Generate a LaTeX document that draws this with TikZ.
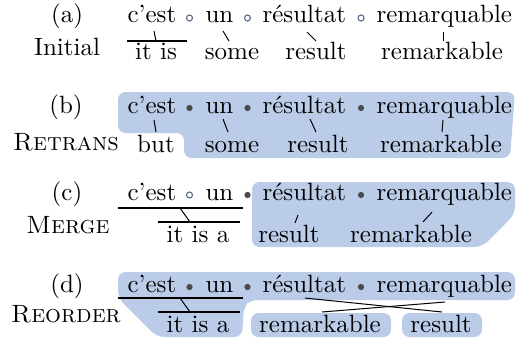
\documentclass[tikz,border=0pt]{standalone}
\usetikzlibrary{calc}
\definecolor{hl}{RGB}{187,204,233}
\definecolor{ocirc}{RGB}{90,105,140}
\definecolor{fcirc}{RGB}{75,75,75}
\begin{document}
\begin{tikzpicture}[x=0.4pt,y=-0.4pt,
  w/.style={inner sep=0pt,anchor=base west},
  c/.style={inner sep=0pt,anchor=base},
  lnk/.style={line width=0.4pt},
  bar/.style={line width=0.5pt},
  oc/.style={circle,draw=ocirc,line width=0.45pt,inner sep=0pt,minimum size=2.4pt},
  fc/.style={circle,fill=fcirc,inner sep=0pt,minimum size=2.5pt},
  hlr/.style={fill=hl,rounded corners=3pt}]
\useasboundingbox (0,0) rectangle (517,339);
% ---------- (a)
\node[c] (la) at (67,23) {(a)};
\node[c] (lan) at (67,56) {Initial};
\node[w] (a1) at (127,23) {c'est};
\node[w] (a2) at (205,23) {un};
\node[w] (a3) at (262,23) {résultat};
\node[w] (a4) at (376,23) {remarquable};
\node[oc] (ao1) at (189.5,18) {};
\node[oc] (ao2) at (247.5,18) {};
\node[oc] (ao3) at (361,18) {};
\node[c] (ab1) at (156,60) {it is};
\node[c] (ab2) at (232,60) {some};
\node[c] (ab3) at (316,60) {result};
\node[c] (ab4) at (442,60) {remarkable};
\draw[bar] ($(ab1.base)+(-29,-19)$) -- ($(ab1.base)+(31,-19)$);
\draw[lnk] ($(a1.base west)+(27,8)$) -- ($(ab1.base)+(0,-19)$);
\draw[lnk] ($(a2.base west)+(18,8)$) -- ($(ab2.base)+(-3,-19)$);
\draw[lnk] ($(a3.base west)+(45,9)$) -- ($(ab3.base)+(0,-19)$);
\draw[lnk] ($(a4.base west)+(67,9)$) -- ($(ab4.base)+(1,-19)$);
% ---------- (b)
\fill[hlr] (118,92) -- (515,92) -- (510,158) -- (184,158) -- (184,133) -- (118,133) -- cycle;
\node[c] (lb) at (66,113) {(b)};
\node[c] (lbn) at (66,150) {\textsc{Retrans}};
\node[w] (b1) at (127,113) {c'est};
\node[w] (b2) at (205,113) {un};
\node[w] (b3) at (262,113) {résultat};
\node[w] (b4) at (376,113) {remarquable};
\node[fc] (bo1) at (189.5,108) {};
\node[fc] (bo2) at (247.5,108) {};
\node[fc] (bo3) at (361,108) {};
\node[c] (bb1) at (156,152) {but};
\node[c] (bb2) at (232,152) {some};
\node[c] (bb3) at (318,152) {result};
\node[c] (bb4) at (441,152) {remarkable};
\draw[lnk] ($(b1.base west)+(27,7)$) -- ($(bb1.base)+(0,-20)$);
\draw[lnk] ($(b2.base west)+(18,6)$) -- ($(bb2.base)+(-4,-20)$);
\draw[lnk] ($(b3.base west)+(48,6)$) -- ($(bb3.base)+(-2,-20)$);
\draw[lnk] ($(b4.base west)+(67,7)$) -- ($(bb4.base)+(1,-20)$);
% ---------- (c)
\fill[hlr] (252,182) -- (515,182) -- (515,214) -- (482,247) -- (252,247) -- cycle;
\node[c] (lc) at (67,200) {(c)};
\node[c] (lcn) at (68,233) {\textsc{Merge}};
\node[w] (c1) at (127,200) {c'est};
\node[w] (c2) at (205,200) {un};
\node[w] (c3) at (262,200) {résultat};
\node[w] (c4) at (376,200) {remarquable};
\node[oc] (co1) at (189.5,195) {};
\node[fc] (co2) at (247.5,195) {};
\node[fc] (co3) at (361,195) {};
\node[c] (cb1) at (198,242) {it is a};
\node[c] (cb2) at (289,242) {result};
\node[c] (cb3) at (411,242) {remarkable};
\draw[bar] ($(c1.base west)+(-9,8)$) -- ($(c2.base east)+(9,8)$);
\draw[bar] ($(cb1.base)+(-40,-20)$) -- ($(cb1.base)+(42,-20)$);
\draw[lnk] ($(c1.base west)+(53,8)$) -- ($(cb1.base)+(-8,-20)$);
\draw[lnk] ($(c3.base west)+(36,15)$) -- ($(cb2.base)+(6,-19)$);
\draw[lnk] ($(c4.base west)+(56,12)$) -- ($(cb3.base)+(12,-20)$);
% ---------- (d)
\fill[hlr] (118,272) -- (515,272) -- (515,300) -- (250,300) -- (244,306) -- (242,337) -- (157,337) -- (118,298) -- cycle;
\fill[hlr] (251,313) rectangle (391,337);
\fill[hlr] (402,313) rectangle (482,337);
\node[c] (ld) at (67,292) {(d)};
\node[c] (ldn) at (66,322) {\textsc{Reorder}};
\node[w] (d1) at (127,292) {c'est};
\node[w] (d2) at (205,292) {un};
\node[w] (d3) at (262,292) {résultat};
\node[w] (d4) at (376,292) {remarquable};
\node[fc] (do1) at (189.5,287) {};
\node[fc] (do2) at (247.5,287) {};
\node[fc] (do3) at (361,287) {};
\node[c] (db1) at (198,332) {it is a};
\node[c] (db2) at (320,332) {remarkable};
\node[c] (db3) at (441,332) {result};
\draw[bar] ($(d1.base west)+(-9,6)$) -- ($(d2.base east)+(9,6)$);
\draw[bar] ($(db1.base)+(-40,-20)$) -- ($(db1.base)+(42,-20)$);
\draw[lnk] ($(d1.base west)+(53,6)$) -- ($(db1.base)+(-8,-20)$);
\draw[lnk] ($(d3.base west)+(43,6)$) -- ($(db3.base)+(1,-20)$);
\draw[lnk] ($(d4.base west)+(69,10)$) -- ($(db2.base)+(2,-20)$);
\end{tikzpicture}
\end{document}
